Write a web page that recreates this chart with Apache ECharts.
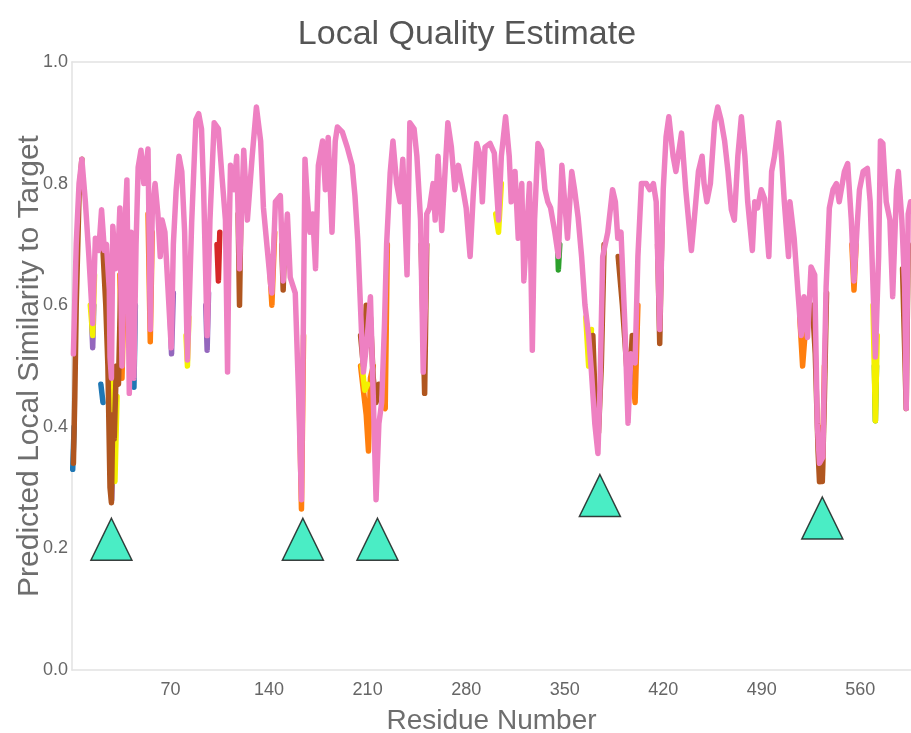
<!DOCTYPE html>
<html>
<head>
<meta charset="utf-8">
<title>Local Quality Estimate</title>
<script src="https://cdn.jsdelivr.net/npm/echarts@6/dist/echarts.min.js"></script>
<style>
	html, body { margin: 0; padding: 0; background: #fff; }
	#qualityChart { width: 911px; height: 733px; }
</style>
</head>
<body>
<div id="qualityChart"></div>
<script>
/**Local quality estimate (residue vs predicted similarity)**/
var xTicks = [70, 140, 210, 280, 350, 420, 490, 560];
var yTicks = [0.0, 0.2, 0.4, 0.6, 0.8, 1.0];
var residueMax = 596;

// pink model - drawn on top, covers the whole chain
var pink = [[1,0.52],[3,0.7],[5,0.8],[7,0.84],[9.5,0.77],[12,0.68],[14.7,0.57],[16.6,0.71],[19,0.69],[21,0.757],
	[23,0.69],[24.5,0.7],[26.5,0.625],[27,0.515],[28,0.48],[28.5,0.6],[29,0.73],[31,0.66],[33,0.7],[34,0.76],
	[35.5,0.5],[37,0.7],[39,0.806],[40.7,0.455],[42,0.72],[44,0.48],[45.5,0.7],[47,0.827],[49,0.855],[51,0.8],
	[54,0.857],[55.6,0.56],[57,0.75],[59,0.8],[61,0.75],[62.7,0.68],[64,0.74],[66,0.72],[68.6,0.61],[70.5,0.53],
	[72,0.7],[74,0.79],[76,0.845],[78,0.82],[80,0.72],[82,0.51],[83.5,0.62],[85,0.735],[88,0.905],[90,0.915],
	[92,0.89],[93.5,0.79],[96,0.55],[98,0.74],[101,0.9],[104,0.89],[106.6,0.81],[109,0.74],[110.5,0.49],[111.5,0.7],
	[112.6,0.83],[115,0.79],[117,0.845],[119,0.66],[122,0.855],[124.6,0.74],[128,0.845],[131,0.926],[134,0.87],[136,0.76],
	[138,0.71],[141,0.636],[142,0.62],[144.5,0.77],[148,0.78],[150,0.64],[153,0.75],[155,0.646],[158.6,0.62],[161,0.45],
	[163,0.28],[164.5,0.6],[165.5,0.84],[167,0.78],[169,0.72],[171,0.75],[173,0.66],[175,0.83],[178,0.87],[180,0.79],
	[182,0.876],[184.7,0.72],[187,0.87],[188.5,0.893],[192,0.885],[195.5,0.86],[199,0.83],[201,0.78],[203,0.707],[206,0.537],
	[207,0.49],[209.5,0.54],[212,0.614],[214,0.45],[216,0.28],[218,0.405],[220,0.44],[222,0.57],[223.5,0.7],[226,0.817],
	[228,0.87],[230.6,0.8],[233,0.77],[235,0.84],[238,0.65],[240,0.9],[243,0.89],[245,0.845],[247.6,0.74],[249.5,0.49],
	[251,0.6],[252,0.75],[254,0.76],[256.5,0.8],[258,0.74],[260,0.845],[262.7,0.723],[265,0.82],[267,0.9],[269.5,0.86],
	[272,0.79],[274.5,0.83],[277.8,0.79],[280,0.76],[282.8,0.68],[285,0.78],[287.5,0.866],[290,0.845],[291.5,0.77],[293.4,0.86],
	[297,0.866],[300,0.85],[303,0.74],[305,0.845],[308,0.91],[310.6,0.845],[312,0.77],[314.7,0.82],[317,0.71],[319.5,0.8],
	[321,0.64],[322.7,0.71],[325,0.8],[327,0.526],[328.6,0.74],[331,0.866],[333.5,0.855],[336,0.79],[338,0.77],[340,0.76],
	[343,0.72],[345.5,0.68],[348,0.83],[350,0.77],[352,0.71],[355,0.82],[357,0.79],[359.5,0.745],[362,0.68],[364.4,0.6],
	[367,0.55],[369,0.49],[371.4,0.405],[373.6,0.356],[375,0.46],[377,0.68],[380.6,0.72],[384,0.79],[386,0.77],[387.7,0.71],
	[390,0.72],[392.7,0.57],[395,0.406],[397,0.52],[400,0.505],[402,0.68],[404.5,0.8],[408,0.8],[410.4,0.79],[413,0.8],
	[415,0.77],[417.5,0.56],[420,0.79],[422,0.877],[424,0.91],[427,0.845],[429,0.82],[433,0.883],[436,0.79],[440,0.69],
	[442,0.74],[445,0.82],[447.6,0.845],[449,0.8],[451,0.77],[453.5,0.8],[456.5,0.9],[458.7,0.926],[461,0.905],[463.6,0.87],
	[466,0.82],[468.4,0.757],[470.5,0.74],[473,0.845],[475.5,0.91],[478,0.845],[480,0.77],[483.3,0.69],[485,0.77],[487,0.76],
	[489.6,0.79],[492,0.775],[495,0.68],[497,0.82],[499,0.845],[502,0.9],[504,0.845],[506,0.77],[509,0.68],[510,0.77],
	[513,0.71],[515.6,0.625],[518,0.55],[520,0.614],[522.5,0.547],[525,0.663],[527.6,0.65],[529.4,0.406],[531,0.34],[533.4,0.35],
	[534.5,0.5],[535.7,0.63],[538,0.76],[540.6,0.79],[543,0.8],[545,0.77],[548.7,0.82],[551,0.833],[553.6,0.74],[555.5,0.64],
	[558,0.74],[559.4,0.79],[562,0.82],[565,0.825],[567,0.77],[570.7,0.515],[573,0.68],[574.3,0.87],[576,0.866],[578.4,0.77],
	[581,0.74],[583,0.614],[585.7,0.79],[587,0.82],[589.5,0.74],[591.5,0.63],[592.6,0.43],[594,0.75],[595.7,0.77]];

// other models only show where they leave the pink line ('-' breaks the line)
var brown = [[1,0.34],[2,0.45],[3,0.6],[5,0.78],[7,0.84],[8,'-'],
	[22,0.69],[24,0.6],[25.5,0.5],[27,0.3],[28,0.275],[29,0.42],[30,0.38],[31.5,0.5],[33,0.47],[34,0.57],[35,0.66],[36,'-'],
	[118,0.75],[119,0.6],[120,0.75],[121,'-'],
	[149,0.7],[150,0.625],[151,0.7],[152,'-'],
	[205,0.55],[207,0.5],[209,0.6],[212,0.58],[214,0.48],[216,0.44],[218,0.47],[219,'-'],
	[248,0.7],[250.5,0.455],[252,0.7],[253,'-'],
	[370,0.55],[372,0.42],[374,0.39],[376,0.5],[378,0.7],[379,'-'],
	[388,0.68],[391,0.6],[394,0.5],[396,0.47],[398,0.55],[399,'-'],
	[416,0.7],[417.5,0.537],[419,0.72],[420,'-'],
	[526,0.6],[528,0.52],[530,0.36],[531,0.31],[533,0.31],[534.5,0.45],[536,0.62],[537,'-'],
	[590,0.66],[592.6,0.43],[594,0.7]];
var orange = [[34,0.65],[35.5,0.48],[37,0.62],[38,'-'],
	[54,0.75],[55.6,0.54],[57,0.72],[58,'-'],
	[140,0.68],[142,0.6],[144,0.72],[145,'-'],
	[161,0.5],[163,0.265],[164.5,0.55],[165,'-'],
	[205,0.5],[207,0.46],[209,0.42],[210.6,0.36],[212,0.48],[214,0.5],[215,'-'],
	[220,0.44],[222.5,0.43],[224,0.7],[225,'-'],
	[398,0.5],[400,0.44],[402,0.6],[403,'-'],
	[517,0.58],[519,0.5],[521,0.56],[522,'-'],
	[530,0.4],[531.5,0.31],[533,0.32],[534.5,0.5],[535,'-'],
	[554,0.7],[555.5,0.625],[557,0.7]];
var yellow = [[13,0.6],[14.7,0.55],[16,0.65],[17,'-'],
	[26,0.58],[27.5,0.5],[29,0.38],[30.5,0.31],[32,0.45],[33,'-'],
	[81,0.55],[82,0.5],[83,0.58],[84,'-'],
	[206,0.5],[208,0.46],[210,0.47],[211,'-'],
	[301,0.75],[303,0.72],[305,0.8],[306,'-'],
	[365,0.58],[367,0.5],[369,0.56],[370,'-'],
	[569,0.6],[570.7,0.41],[572,0.55]];
var blue = [[0.5,0.33],[1.5,0.4],[2,'-'],
	[20.5,0.47],[22,0.44],[23,'-'],
	[43,0.6],[44,0.465],[45,0.6]];
var purple = [[14,0.57],[14.7,0.53],[15.5,0.6],[16,'-'],
	[27.5,0.35],[28.2,0.28],[29,0.35],[30,'-'],
	[69.5,0.6],[70.7,0.52],[72,0.62],[73,'-'],
	[95,0.6],[96,0.526],[97,0.62]];
var green = [[345,0.7],[345.5,0.658],[346.5,0.7],[347,'-'],
	[570,0.5],[570.7,0.41],[571.5,0.5]];
var red = [[103,0.7],[104,0.64],[105,0.72]];

// low-quality regions marked with triangles
var markerRes = [28, 164, 217, 375, 533];
var markerVal = [0.215, 0.215, 0.215, 0.287, 0.25];

var qualityChart = {
	init: function() {
		this.chart = echarts.init(document.getElementById('qualityChart'), null, { renderer: 'canvas' });
		this.chart.setOption(this.buildOption(), true);
	},
	lineSeries: function(name, data, color) {
		return {
			name: name,
			type: 'line',
			data: data,
			showSymbol: false,
			symbol: 'none',
			connectNulls: false,
			lineStyle: { color: color, width: 5.5, join: 'round', cap: 'round' },
			z: 2
		};
	},
	buildOption: function() {
		var font = 'Liberation Sans, Arial, sans-serif';
		var axisGray = '#e2e2e2';
		var markers = markerRes.map(function(r, i) {
			return [r, markerVal[i]];
		});
		return {
			animation: false,
			backgroundColor: '#fff',
			title: {
				text: 'Local Quality Estimate',
				left: 462,
				top: 13,
				textAlign: 'center',
				textStyle: { fontFamily: font, fontSize: 34, fontWeight: 'normal', color: '#555' }
			},
			grid: { left: 72, right: 0, top: 62, bottom: 63, containLabel: false, outerBoundsMode: 'none' },
			xAxis: [{
				type: 'value',
				min: 0,
				max: residueMax,
				interval: 70,
				name: 'Residue Number',
				nameLocation: 'middle',
				nameGap: 37,
				nameMoveOverlap: false,
				nameTextStyle: { fontFamily: font, fontSize: 28, color: '#6e6e6e' },
				axisLine: { show: true, lineStyle: { color: axisGray, width: 1.5 } },
				axisTick: { show: false },
				splitLine: { show: false },
				axisLabel: {
					margin: 11,
					fontFamily: font,
					fontSize: 18,
					color: '#666',
					showMinLabel: false,
					showMaxLabel: false,
					formatter: function(v) {
						return xTicks.indexOf(v) > -1 ? String(v) : '';
					}
				}
			}, {
				// top border line at 1.0
				type: 'value',
				position: 'top',
				min: 0,
				max: residueMax,
				axisLine: { show: true, lineStyle: { color: axisGray, width: 1.5 } },
				axisTick: { show: false },
				axisLabel: { show: false },
				splitLine: { show: false }
			}],
			yAxis: {
				type: 'value',
				min: yTicks[0],
				max: yTicks[yTicks.length - 1],
				interval: 0.2,
				name: 'Predicted Local Similarity to Target',
				nameLocation: 'middle',
				nameGap: 27,
				nameMoveOverlap: false,
				nameTextStyle: { fontFamily: font, fontSize: 30, color: '#6e6e6e' },
				axisLine: { show: true, lineStyle: { color: axisGray, width: 1.5 } },
				axisTick: { show: false },
				splitLine: { show: false },
				axisLabel: {
					margin: 4,
					fontFamily: font,
					fontSize: 18,
					color: '#666',
					formatter: function(v) {
						return v.toFixed(1);
					}
				}
			},
			series: [
				this.lineSeries('model blue', blue, '#1f77b4'),
				this.lineSeries('model green', green, '#2ca02c'),
				this.lineSeries('model red', red, '#d62728'),
				this.lineSeries('model purple', purple, '#9467bd'),
				this.lineSeries('model orange', orange, '#ff7f0e'),
				this.lineSeries('model yellow', yellow, '#f4f000'),
				this.lineSeries('model brown', brown, '#b0561f'),
				this.lineSeries('model pink', pink, '#ee80c2'),
				{
					name: 'markers',
					type: 'scatter',
					data: markers,
					symbol: 'triangle',
					symbolSize: [41, 42],
					itemStyle: { color: '#1de9b6', borderColor: '#111', borderWidth: 1.5 },
					z: 5
				}
			]
		};
	}
};

qualityChart.init();
</script>
</body>
</html>
